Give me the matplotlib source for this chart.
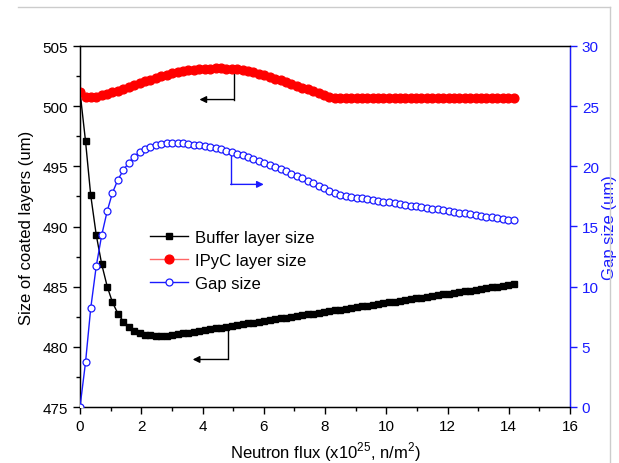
import matplotlib
matplotlib.use("Agg")
import matplotlib.pyplot as plt
from matplotlib.ticker import MultipleLocator
from matplotlib.lines import Line2D

plt.rcParams['font.family'] = ['Liberation Sans', 'DejaVu Sans']
plt.rcParams['mathtext.fontset'] = 'custom'
plt.rcParams['mathtext.rm'] = 'Liberation Sans'

flux = [0.00, 0.18, 0.35, 0.53, 0.71, 0.89, 1.06, 1.24, 1.42, 1.59,
        1.77, 1.95, 2.12, 2.30, 2.48, 2.66, 2.83, 3.01, 3.19, 3.36,
        3.54, 3.72, 3.89, 4.07, 4.25, 4.43, 4.60, 4.78, 4.96, 5.13,
        5.31, 5.49, 5.66, 5.84, 6.02, 6.20, 6.37, 6.55, 6.73, 6.90,
        7.08, 7.26, 7.43, 7.61, 7.79, 7.97, 8.14, 8.32, 8.50, 8.67,
        8.85, 9.03, 9.20, 9.38, 9.56, 9.73, 9.91, 10.09, 10.27, 10.44,
        10.62, 10.80, 10.97, 11.15, 11.33, 11.50, 11.68, 11.86, 12.04, 12.21,
        12.39, 12.57, 12.74, 12.92, 13.10, 13.27, 13.45, 13.63, 13.81, 13.98,
        14.16]

buffer_size = [501.2, 497.1, 492.6, 489.3, 486.85, 485.0, 483.7, 482.75, 482.1, 481.65,
               481.35, 481.15, 481.0, 480.95, 480.9, 480.9, 480.92, 480.97, 481.04, 481.11,
               481.18, 481.25, 481.32, 481.39, 481.46, 481.53, 481.60, 481.67, 481.74, 481.81,
               481.88, 481.95, 482.02, 482.09, 482.16, 482.22, 482.29, 482.36, 482.42, 482.49,
               482.56, 482.62, 482.69, 482.76, 482.82, 482.89, 482.96, 483.02, 483.09, 483.16,
               483.22, 483.29, 483.36, 483.42, 483.49, 483.55, 483.62, 483.69, 483.75, 483.82,
               483.88, 483.95, 484.02, 484.08, 484.15, 484.21, 484.28, 484.35, 484.41, 484.48,
               484.54, 484.61, 484.68, 484.74, 484.81, 484.87, 484.94, 485.01, 485.07, 485.14,
               485.2]

ipyc_size = [501.2, 500.8, 500.75, 500.8, 500.9, 501.0, 501.15, 501.3, 501.45, 501.6,
             501.75, 501.9, 502.05, 502.2, 502.35, 502.5, 502.62, 502.73, 502.83, 502.91,
             502.98, 503.04, 503.08, 503.11, 503.13, 503.14, 503.14, 503.13, 503.1, 503.05,
             502.98, 502.9, 502.8, 502.68, 502.55, 502.42, 502.28, 502.14, 501.99, 501.84,
             501.69, 501.54, 501.39, 501.24, 501.09, 500.94, 500.8, 500.68, 500.65, 500.65,
             500.65, 500.65, 500.65, 500.65, 500.65, 500.65, 500.65, 500.65, 500.65, 500.65,
             500.65, 500.65, 500.65, 500.65, 500.65, 500.65, 500.65, 500.65, 500.65, 500.65,
             500.65, 500.65, 500.65, 500.65, 500.65, 500.65, 500.65, 500.65, 500.65, 500.65,
             500.65]

gap_size = [0.0, 3.7, 8.2, 11.7, 14.3, 16.3, 17.8, 18.9, 19.7, 20.3,
            20.8, 21.2, 21.45, 21.6, 21.75, 21.85, 21.9, 21.92, 21.92, 21.9,
            21.86, 21.81, 21.75, 21.68, 21.6, 21.51, 21.41, 21.3, 21.18, 21.05,
            20.91, 20.76, 20.61, 20.45, 20.29, 20.12, 19.95, 19.77, 19.58, 19.39,
            19.19, 18.99, 18.79, 18.58, 18.37, 18.16, 17.95, 17.75, 17.6, 17.52,
            17.46, 17.4, 17.33, 17.27, 17.2, 17.14, 17.07, 17.01, 16.94, 16.87,
            16.81, 16.74, 16.68, 16.61, 16.55, 16.48, 16.42, 16.35, 16.28, 16.22,
            16.15, 16.09, 16.02, 15.96, 15.89, 15.83, 15.76, 15.7, 15.63, 15.57,
            15.5]

series_labels = ["Buffer layer size", "IPyC layer size", "Gap size"]

BLUE = '#1a1aff'

fig = plt.figure(figsize=(6.19, 4.64), dpi=100)
ax = fig.add_axes([80/619, 1-408/464, 490/619, 361/464])
ax2 = ax.twinx()

ax.plot(flux, buffer_size, color='black', lw=1.0, marker='s', ms=4.2,
        mfc='black', mec='black', label=series_labels[0], zorder=3)
ax.plot(flux, ipyc_size, color='#ff6666', lw=1.0, marker='o', ms=6.3,
        mfc='red', mec='red', label=series_labels[1], zorder=3)
ax2.plot(flux, gap_size, color=BLUE, lw=1.0, marker='o', ms=5,
         mfc='white', mec=BLUE, mew=0.9, label=series_labels[2], zorder=3)

ax.set_xlim(0, 16)
ax.set_ylim(475, 505)
ax2.set_ylim(0, 30)

ax.xaxis.set_major_locator(MultipleLocator(2))
ax.xaxis.set_minor_locator(MultipleLocator(1))
ax.yaxis.set_major_locator(MultipleLocator(5))
ax.yaxis.set_minor_locator(MultipleLocator(2.5))
ax2.yaxis.set_major_locator(MultipleLocator(5))

ax.tick_params(axis='both', which='major', direction='out', length=5, width=1, labelsize=11)
ax.tick_params(axis='both', which='minor', direction='out', length=3, width=1)
ax.tick_params(axis='x', which='both', top=False)
ax2.tick_params(axis='y', which='major', direction='out', length=5, width=1,
                colors=BLUE, labelsize=11)

for s in ['left', 'bottom', 'top']:
    ax.spines[s].set_linewidth(1.0)
ax2.spines['right'].set_color(BLUE)
ax2.spines['right'].set_linewidth(1.0)

ax.set_xlabel('Neutron flux (x10$^{25}$, n/m$^{2}$)', fontsize=12, labelpad=5)
ax.set_ylabel('Size of coated layers (um)', fontsize=12, labelpad=6)
ax2.set_ylabel('Gap size (um)', fontsize=12, color=BLUE, labelpad=2)

# arrows indicating axes
ax.plot([5.03, 5.03], [503.0, 500.55], color='black', lw=1)
ax.annotate('', xy=(3.9, 500.55), xytext=(5.03, 500.55),
            arrowprops=dict(arrowstyle='-|>', color='black', lw=1,
                            mutation_scale=10, shrinkA=0, shrinkB=0))
ax.plot([4.83, 4.83], [481.35, 478.95], color='black', lw=1)
ax.annotate('', xy=(3.68, 478.95), xytext=(4.83, 478.95),
            arrowprops=dict(arrowstyle='-|>', color='black', lw=1,
                            mutation_scale=10, shrinkA=0, shrinkB=0))
ax2.plot([4.92, 4.92], [20.9, 18.5], color=BLUE, lw=1)
ax2.annotate('', xy=(6.0, 18.5), xytext=(4.92, 18.5),
             arrowprops=dict(arrowstyle='-|>', color=BLUE, lw=1,
                             mutation_scale=10, shrinkA=0, shrinkB=0))

handles = [ax.lines[0], ax.lines[1], ax2.lines[0]]
leg = ax.legend(handles, series_labels, loc='upper left',
                bbox_to_anchor=(0.112, 0.533), frameon=False, fontsize=12,
                handlelength=2.3, handletextpad=0.4, labelspacing=0.5)

# faint frame around the figure
fig.add_artist(Line2D([18/619, 610/619], [1-8/464, 1-8/464], color='#cccccc', lw=1))
fig.add_artist(Line2D([610/619, 610/619], [1-8/464, 0], color='#cccccc', lw=1))

fig.savefig('out.png', dpi=100)
